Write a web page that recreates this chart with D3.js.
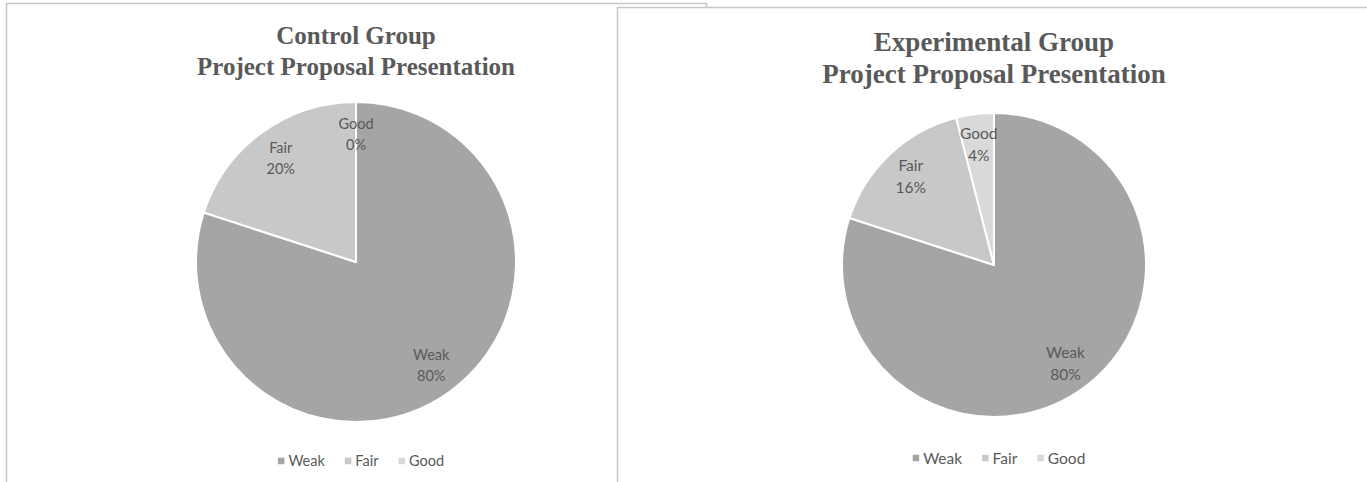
<!DOCTYPE html>
<html>
<head>
<meta charset="utf-8">
<script src="https://cdn.jsdelivr.net/npm/d3@7/dist/d3.min.js"></script>
<style>
  html, body { margin: 0; padding: 0; background: #fff; }
  svg { display: block; }
</style>
</head>
<body>
<svg id="chart" width="1367" height="482"></svg>
<script>
// Ratings of the project proposal presentation, per group (percent)
const categories = ["Weak", "Fair", "Good"];
const controlValues = [80, 20, 0];
const experimentalValues = [80, 16, 4];
const groupTitles = ["Control Group", "Experimental Group"];
const subtitle = "Project Proposal Presentation";

const sliceColors = ["#a5a5a5", "#c8c8c8", "#d9d9d9"];
const textColor = "#595959";

const svg = d3.select("#chart");

// Panel frames: the second panel sits on top of the first
const panels = [
  { x: 6.5, y: 3.5, w: 700, h: 500, cx: 356, cy: 262, r: 160, titleY: [44, 75], titleSize: 25, labelSize: 14.5, legendY: 461, legendCx: 361, values: controlValues },
  { x: 617.5, y: 7.5, w: 760, h: 500, cx: 994, cy: 265, r: 152, titleY: [51, 83], titleSize: 27, labelSize: 15.5, legendY: 458, legendCx: 999, values: experimentalValues }
];

const color = d3.scaleOrdinal().domain(categories).range(sliceColors);

panels.forEach((p, i) => {
  const g = svg.append("g");
  g.append("rect")
    .attr("x", p.x).attr("y", p.y).attr("width", p.w).attr("height", p.h)
    .attr("fill", "#fff").attr("stroke", "#c6c6c6").attr("stroke-width", 1.5);

  // Title
  const title = g.append("text")
    .attr("text-anchor", "middle")
    .attr("font-family", "'Liberation Serif', 'Times New Roman', serif")
    .attr("font-weight", "bold")
    .attr("font-size", p.titleSize)
    .attr("fill", textColor);
  title.append("tspan").attr("x", p.cx).attr("y", p.titleY[0]).text(groupTitles[i]);
  title.append("tspan").attr("x", p.cx).attr("y", p.titleY[1]).text(subtitle);

  // Pie, starting at 12 o'clock and running clockwise
  const data = categories.map((c, k) => ({ cat: c, value: p.values[k] }));
  const pie = d3.pie().value(d => d.value).sort(null);
  const arcs = pie(data);
  const arc = d3.arc().innerRadius(0).outerRadius(p.r);
  const labelArc = d3.arc().innerRadius(p.r * 0.8).outerRadius(p.r * 0.8);

  const pg = g.append("g").attr("transform", `translate(${p.cx},${p.cy})`);
  pg.selectAll("path")
    .data(arcs)
    .join("path")
    .attr("d", arc)
    .attr("fill", d => color(d.data.cat))
    .attr("stroke", "#fff")
    .attr("stroke-width", 2)
    .attr("stroke-linejoin", "round");

  const fmt = d3.format(".0%");
  const lab = pg.selectAll("text.lbl")
    .data(arcs)
    .join("text")
    .attr("class", "lbl")
    .attr("text-anchor", "middle")
    .attr("font-family", "Lato, 'Open Sans', sans-serif")
    .attr("font-size", p.labelSize)
    .attr("fill", textColor)
    .attr("transform", d => {
      const c = labelArc.centroid(d);
      return `translate(${c[0]},${c[1]})`;
    });
  const lh = p.labelSize * 1.45;
  lab.append("tspan").attr("x", 0).attr("y", -lh / 2 + p.labelSize * 0.35).text(d => d.data.cat);
  lab.append("tspan").attr("x", 0).attr("y", lh / 2 + p.labelSize * 0.35).text(d => fmt(d.data.value / 100));

  // Legend, centred under the pie
  const lg = g.append("g");
  const items = lg.selectAll("g.item")
    .data(categories)
    .join("g")
    .attr("class", "item");
  const sq = 6.5;
  items.append("rect")
    .attr("width", sq).attr("height", sq)
    .attr("y", p.legendY - sq / 2)
    .attr("fill", d => color(d));
  items.append("text")
    .attr("font-family", "Lato, 'Open Sans', sans-serif")
    .attr("font-size", p.labelSize)
    .attr("fill", textColor)
    .attr("y", p.legendY + p.labelSize * 0.36)
    .text(d => d);

  const gapSq = 4, gapItem = 20;
  const widths = [];
  items.select("text").each(function () { widths.push(this.getComputedTextLength()); });
  const itemW = widths.map(w => sq + gapSq + w);
  const total = d3.sum(itemW) + gapItem * (categories.length - 1);
  let x = p.legendCx - total / 2;
  items.each(function (d, k) {
    const it = d3.select(this);
    it.select("rect").attr("x", x);
    it.select("text").attr("x", x + sq + gapSq);
    x += itemW[k] + gapItem;
  });
});
</script>
</body>
</html>
